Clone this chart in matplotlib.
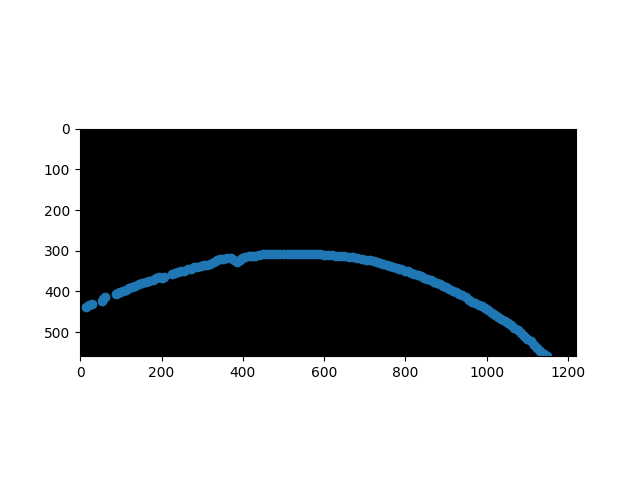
import numpy as np
import matplotlib
matplotlib.use("Agg")
import matplotlib.pyplot as plt

# image size (pixels) of the black frame
img_w = 1220
img_h = 560

# tracked points (pixel coordinates)
xs = [15, 22, 29, 53, 57, 61, 88, 94, 98, 105,
      112, 120, 128, 136, 145, 153, 161, 170, 178, 186, 193, 200, 206,
      225, 232, 240, 248, 256, 264, 272, 280, 288, 296, 304, 312, 320, 328,
      336, 344, 352, 361, 370, 378, 385, 392, 398, 406, 414, 422, 430, 440,
      450, 460, 470, 480, 490, 500, 510, 520, 530, 540, 550, 560, 570, 580,
      590, 600, 610, 620, 630, 640, 650, 660, 672, 682, 692, 702, 712, 722,
      730, 738, 746, 754, 762, 770, 778, 783, 790, 798, 806, 814, 822, 830,
      838, 846, 854, 862, 870, 878, 886, 893, 900, 908, 916, 924, 932, 940,
      948, 956, 964, 972, 980, 988, 996, 1004, 1012, 1020, 1028, 1036, 1044,
      1052, 1060, 1068, 1076, 1084, 1092, 1100, 1108, 1116, 1124, 1132, 1140,
      1148]
ys = [438, 434, 430, 423, 419, 415, 407, 404, 402, 400,
      396, 392, 389, 386, 383, 380, 377, 374, 371, 367, 364, 366, 365,
      357, 355, 353, 351, 349, 346, 344, 341, 339, 337, 335, 334, 333, 328,
      323, 321, 320, 318, 319, 323, 328, 322, 318, 316, 314, 313, 312, 311,
      309, 308, 308, 308, 308, 308, 308, 308, 308, 308, 308, 308, 308, 308,
      309, 310, 310, 311, 312, 313, 314, 315, 316, 318, 320, 322, 324, 326,
      328, 330, 332, 335, 337, 340, 343, 345, 346, 349, 351, 354, 357, 360,
      363, 366, 369, 373, 376, 380, 383, 387, 390, 394, 398, 402, 406, 410,
      415, 420, 425, 429, 433, 437, 442, 447, 452, 457, 462, 467, 472,
      477, 483, 490, 496, 503, 510, 516, 523, 531, 539, 547, 553,
      558]

frame = np.zeros((img_h, img_w, 3))

fig, ax = plt.subplots()
ax.imshow(frame)
ax.scatter(xs, ys)
ax.set_xlim(-0.5, img_w - 0.5)
ax.set_ylim(img_h - 0.5, -0.5)

plt.savefig("out.png")
